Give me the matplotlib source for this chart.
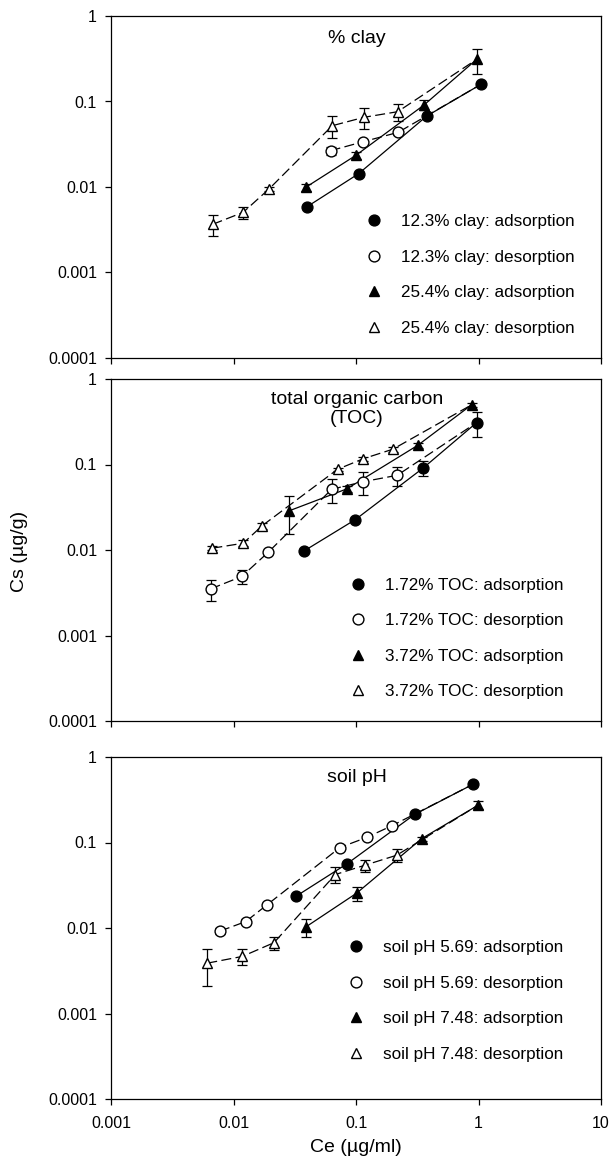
import matplotlib
matplotlib.use("Agg")
import matplotlib.pyplot as plt
from matplotlib.lines import Line2D

plt.rcParams['font.family'] = ['Liberation Sans', 'DejaVu Sans']

# ---------------- data ----------------
# Panel 1: % clay
clay_ads1_x = [0.040, 0.105, 0.378, 1.05]
clay_ads1_y = [0.0059, 0.0143, 0.0676, 0.159]
clay_ads1_e = [0.0003, 0.0008, 0.003, 0.006]
clay_des1_x = [0.062, 0.115, 0.221]
clay_des1_y = [0.0266, 0.0339, 0.0436]
clay_des1_e = [0.003, 0.002, 0.003]
clay_ads2_x = [0.0388, 0.100, 0.359, 0.966]
clay_ads2_y = [0.0099, 0.0235, 0.091, 0.311]
clay_ads2_e = [0.001, 0.002, 0.012, 0.1]
clay_des2_x = [0.00676, 0.0120, 0.0196, 0.064, 0.116, 0.219]
clay_des2_y = [0.00366, 0.00506, 0.00955, 0.0521, 0.0653, 0.076]
clay_des2_e = [0.001, 0.0008, 0.0005, 0.015, 0.018, 0.017]
clay_labels = ["12.3% clay: adsorption", "12.3% clay: desorption",
               "25.4% clay: adsorption", "25.4% clay: desorption"]

# Panel 2: TOC
toc_ads1_x = [0.0376, 0.0989, 0.355, 0.966]
toc_ads1_y = [0.00973, 0.0227, 0.0914, 0.309]
toc_ads1_e = [0.0005, 0.001, 0.018, 0.1]
toc_des1_x = [0.00651, 0.01167, 0.0192, 0.0633, 0.115, 0.217]
toc_des1_y = [0.00351, 0.0049, 0.0094, 0.0513, 0.063, 0.0748]
toc_des1_e = [0.001, 0.0009, 0.0004, 0.016, 0.019, 0.019]
toc_ads2_x = [0.0286, 0.084, 0.318, 0.879]
toc_ads2_y = [0.0288, 0.0518, 0.167, 0.499]
toc_ads2_e = [0.0135, 0.004, 0.01, 0.03]
toc_des2_x = [0.00672, 0.012, 0.0172, 0.0708, 0.115, 0.2]
toc_des2_y = [0.0105, 0.012, 0.0193, 0.088, 0.117, 0.151]
toc_des2_e = [0.0005, 0.001, 0.0015, 0.004, 0.006, 0.01]
toc_labels = ["1.72% TOC: adsorption", "1.72% TOC: desorption",
              "3.72% TOC: adsorption", "3.72% TOC: desorption"]

# Panel 3: soil pH
ph_ads1_x = [0.0324, 0.085, 0.301, 0.908]
ph_ads1_y = [0.0235, 0.0567, 0.213, 0.482]
ph_ads1_e = [0.001, 0.003, 0.01, 0.02]
ph_des1_x = [0.00776, 0.0126, 0.0189, 0.074, 0.122, 0.198]
ph_des1_y = [0.0092, 0.0119, 0.0188, 0.0874, 0.1145, 0.158]
ph_des1_e = [0.0008, 0.0008, 0.001, 0.003, 0.004, 0.006]
ph_ads2_x = [0.0388, 0.101, 0.344, 0.996]
ph_ads2_y = [0.01025, 0.0255, 0.111, 0.274]
ph_ads2_e = [0.0025, 0.005, 0.006, 0.03]
ph_des2_x = [0.00611, 0.0118, 0.0214, 0.0678, 0.118, 0.215]
ph_des2_y = [0.00388, 0.00465, 0.00673, 0.0422, 0.0542, 0.071]
ph_des2_e = [0.0018, 0.001, 0.0012, 0.009, 0.009, 0.012]
ph_labels = ["soil pH 5.69: adsorption", "soil pH 5.69: desorption",
             "soil pH 7.48: adsorption", "soil pH 7.48: desorption"]

titles = ["% clay", "total organic carbon\n(TOC)", "soil pH"]
xticks = [0.001, 0.01, 0.1, 1, 10]
xticklabels = ["0.001", "0.01", "0.1", "1", "10"]
yticks = [0.0001, 0.001, 0.01, 0.1, 1]
yticklabels = ["0.0001", "0.001", "0.01", "0.1", "1"]

# ---------------- figure ----------------
W, H = 611, 1169
fig = plt.figure(figsize=(W / 100, H / 100), dpi=100)

rects = [
    [111 / W, 1 - 358 / H, 490 / W, 342 / H],
    [111 / W, 1 - 721 / H, 490 / W, 342 / H],
    [111 / W, 1 - 1099 / H, 490 / W, 342 / H],
]
title_y = [0.935, 0.912, 0.941]
leg_anchor = [(0.519, 0.243), (0.487, 0.241), (0.483, 0.287)]

panels = [
    (clay_ads1_x, clay_ads1_y, clay_ads1_e, clay_des1_x, clay_des1_y, clay_des1_e,
     clay_ads2_x, clay_ads2_y, clay_ads2_e, clay_des2_x, clay_des2_y, clay_des2_e, clay_labels),
    (toc_ads1_x, toc_ads1_y, toc_ads1_e, toc_des1_x, toc_des1_y, toc_des1_e,
     toc_ads2_x, toc_ads2_y, toc_ads2_e, toc_des2_x, toc_des2_y, toc_des2_e, toc_labels),
    (ph_ads1_x, ph_ads1_y, ph_ads1_e, ph_des1_x, ph_des1_y, ph_des1_e,
     ph_ads2_x, ph_ads2_y, ph_ads2_e, ph_des2_x, ph_des2_y, ph_des2_e, ph_labels),
]

ms = 7.8
dash = (0, (8, 3.5))


def series(ax, x, y, e, marker, filled):
    ax.errorbar(x, y, yerr=e, fmt='none', ecolor='black', elinewidth=0.9,
                capsize=3.6, capthick=0.9, zorder=2)
    ax.plot(x, y, linestyle='none', marker=marker, markersize=ms,
            markerfacecolor='black' if filled else 'white',
            markeredgecolor='black', markeredgewidth=1.0, zorder=4)


for i, (rect, p) in enumerate(zip(rects, panels)):
    (a1x, a1y, a1e, d1x, d1y, d1e, a2x, a2y, a2e, d2x, d2y, d2e, labels) = p
    ax = fig.add_axes(rect)
    ax.set_xscale('log')
    ax.set_yscale('log')
    ax.set_xlim(0.001, 10)
    ax.set_ylim(0.0001, 1)

    # connecting lines
    ax.plot(a1x, a1y, color='black', lw=0.9, zorder=1)
    ax.plot(a2x, a2y, color='black', lw=0.9, zorder=1)
    ax.plot(d1x + [a1x[-1]], d1y + [a1y[-1]], color='black', lw=0.9,
            linestyle=dash, zorder=1)
    ax.plot(d2x + [a2x[-1]], d2y + [a2y[-1]], color='black', lw=0.9,
            linestyle=dash, zorder=1)

    series(ax, a1x, a1y, a1e, 'o', True)
    series(ax, d1x, d1y, d1e, 'o', False)
    series(ax, a2x, a2y, a2e, '^', True)
    series(ax, d2x, d2y, d2e, '^', False)

    ax.set_xticks(xticks)
    ax.set_yticks(yticks)
    ax.minorticks_off()
    ax.set_yticklabels(yticklabels)
    if i == 2:
        ax.set_xticklabels(xticklabels)
    else:
        ax.set_xticklabels([])
    ax.tick_params(axis='both', direction='out', length=4.5, width=0.9,
                   labelsize=11.5, colors='black')
    ax.tick_params(axis='y', pad=5.5)
    ax.tick_params(axis='x', pad=7.5)
    for s in ax.spines.values():
        s.set_linewidth(0.9)

    ax.text(0.502, title_y[i], titles[i], transform=ax.transAxes,
            ha='center', va='center', fontsize=14, linespacing=1.2)

    handles = [
        Line2D([], [], linestyle='none', marker='o', markersize=ms,
               markerfacecolor='black', markeredgecolor='black'),
        Line2D([], [], linestyle='none', marker='o', markersize=ms,
               markerfacecolor='white', markeredgecolor='black'),
        Line2D([], [], linestyle='none', marker='^', markersize=ms,
               markerfacecolor='black', markeredgecolor='black'),
        Line2D([], [], linestyle='none', marker='^', markersize=ms,
               markerfacecolor='white', markeredgecolor='black'),
    ]
    ax.legend(handles, labels, loc='center left', bbox_to_anchor=leg_anchor[i],
              frameon=False, fontsize=12.3, handlelength=1.0,
              handletextpad=1.08, labelspacing=1.2, borderpad=0,
              borderaxespad=0)

fig.text(356 / W, 1 - 1148 / H, "Ce (\u00b5g/ml)", ha='center', va='center',
         fontsize=14)
fig.text(20 / W, 1 - 551 / H, "Cs (\u00b5g/g)", ha='center', va='center',
         rotation=90, fontsize=14)

fig.savefig("out.png", dpi=100)
